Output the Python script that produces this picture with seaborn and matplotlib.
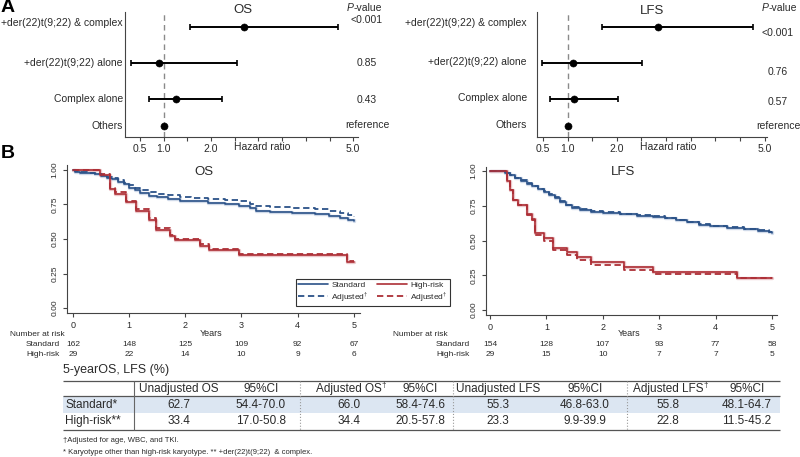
import numpy as np
import pandas as pd
import matplotlib
matplotlib.use("Agg")
import matplotlib.pyplot as plt
import matplotlib.transforms as mtransforms
from matplotlib.lines import Line2D
import seaborn as sns

# ---------------- panel A: hazard ratios ----------------
groups = ["+der(22)t(9;22) & complex", "+der(22)t(9;22) alone", "Complex alone", "Others"]
os_hr = [2.70, 0.90, 1.26, 1.00]
os_lo = [1.56, 0.31, 0.69, np.nan]
os_hi = [4.68, 2.55, 2.23, np.nan]
os_p = ["<0.001", "0.85", "0.43", "reference"]
lfs_hr = [2.83, 1.11, 1.13, 1.00]
lfs_lo = [1.69, 0.48, 0.64, np.nan]
lfs_hi = [4.77, 2.51, 2.03, np.nan]
lfs_p = ["<0.001", "0.76", "0.57", "reference"]
hr_ticks = [0.5, 1.0, 1.5, 2.0, 2.5, 3.0, 3.5, 4.0, 4.5, 5.0]
hr_ticklabels = ["0.5", "1.0", "", "2.0", "", "", "", "", "", "5.0"]

# ---------------- panel B: Kaplan-Meier curves ----------------
os_std_t = [0, 0.04, 0.12, 0.25, 0.40, 0.50, 0.60, 0.70, 0.80, 0.90, 1.00, 1.10, 1.20, 1.35, 1.50,
            1.70, 1.90, 2.10, 2.40, 2.70, 2.95, 3.15, 3.25, 3.50, 3.90, 4.30, 4.55, 4.75, 4.90, 5.00]
os_std_s = [1.0, 0.988, 0.981, 0.975, 0.969, 0.957, 0.944, 0.932, 0.914, 0.895, 0.870, 0.852, 0.833, 0.815, 0.803,
            0.790, 0.778, 0.772, 0.759, 0.753, 0.741, 0.722, 0.704, 0.698, 0.685, 0.679, 0.667, 0.654, 0.636, 0.627]
os_std_adj = [1.0, 0.990, 0.984, 0.979, 0.974, 0.964, 0.952, 0.941, 0.925, 0.909, 0.888, 0.872, 0.855, 0.839, 0.828,
              0.817, 0.806, 0.800, 0.789, 0.783, 0.772, 0.755, 0.739, 0.734, 0.722, 0.717, 0.706, 0.689, 0.672, 0.660]
os_hr_t = [0, 0.48, 0.65, 0.74, 0.94, 1.12, 1.35, 1.48, 1.72, 1.81, 2.26, 2.43, 2.96, 4.87, 5.00]
os_hr_s = [1.0, 0.966, 0.862, 0.828, 0.765, 0.700, 0.640, 0.565, 0.520, 0.494, 0.452, 0.421, 0.386, 0.334, 0.334]
os_hr_adj = [1.0, 0.970, 0.872, 0.840, 0.778, 0.716, 0.655, 0.578, 0.532, 0.500, 0.462, 0.428, 0.392, 0.344, 0.344]

lfs_std_t = [0, 0.27, 0.35, 0.45, 0.55, 0.65, 0.75, 0.85, 0.95, 1.05, 1.15, 1.25, 1.35, 1.45, 1.60,
             1.80, 2.00, 2.30, 2.60, 2.90, 3.10, 3.30, 3.50, 3.70, 3.90, 4.20, 4.50, 4.75, 4.95, 5.00]
lfs_std_s = [1.0, 0.987, 0.968, 0.948, 0.929, 0.909, 0.890, 0.870, 0.851, 0.831, 0.805, 0.779, 0.753, 0.734, 0.721,
             0.708, 0.701, 0.688, 0.679, 0.669, 0.659, 0.646, 0.630, 0.614, 0.601, 0.591, 0.581, 0.571, 0.558, 0.553]
lfs_std_adj = [1.0, 0.989, 0.971, 0.951, 0.932, 0.912, 0.893, 0.874, 0.855, 0.835, 0.810, 0.784, 0.758, 0.739, 0.726,
               0.713, 0.706, 0.693, 0.684, 0.674, 0.664, 0.651, 0.635, 0.619, 0.606, 0.596, 0.586, 0.576, 0.563, 0.558]
lfs_hr_t = [0, 0.30, 0.36, 0.41, 0.50, 0.65, 0.74, 0.80, 0.95, 1.12, 1.36, 1.54, 1.80, 2.37, 2.90, 4.38, 5.00]
lfs_hr_s = [1.0, 0.931, 0.862, 0.793, 0.759, 0.690, 0.655, 0.552, 0.517, 0.448, 0.414, 0.379, 0.345, 0.310, 0.272, 0.233, 0.233]
lfs_hr_adj = [1.0, 0.930, 0.860, 0.790, 0.755, 0.685, 0.648, 0.540, 0.500, 0.430, 0.395, 0.360, 0.325, 0.288, 0.262, 0.228, 0.228]

risk_years = [0, 1, 2, 3, 4, 5]
os_risk_std = [162, 148, 125, 109, 92, 67]
os_risk_high = [29, 22, 14, 10, 9, 6]
lfs_risk_std = [154, 128, 107, 93, 77, 58]
lfs_risk_high = [29, 15, 10, 7, 7, 5]

# ---------------- 5-year table ----------------
tab_cols = ["Unadjusted OS", "95%CI", "Adjusted OS", "95%CI",
            "Unadjusted LFS", "95%CI", "Adjusted LFS", "95%CI"]
tab_col_sup = ["", "", "\u2020", "", "", "", "\u2020", ""]
tab_rows = ["Standard*", "High-risk**"]
unadj_os = ["62.7", "33.4"]
unadj_os_ci = ["54.4-70.0", "17.0-50.8"]
adj_os = ["66.0", "34.4"]
adj_os_ci = ["58.4-74.6", "20.5-57.8"]
unadj_lfs = ["55.3", "23.3"]
unadj_lfs_ci = ["46.8-63.0", "9.9-39.9"]
adj_lfs = ["55.8", "22.8"]
adj_lfs_ci = ["48.1-64.7", "11.5-45.2"]

BLUE, BLUE_L = "#2b5288", "#a3b7d4"
RED, RED_L = "#ad2f36", "#e0a2a7"
TXT = "#2a2a2a"

sns.set_style("ticks")
plt.rcParams["font.family"] = ["Liberation Sans", "DejaVu Sans"]
plt.rcParams["mathtext.fontset"] = "custom"
plt.rcParams["mathtext.rm"] = "Liberation Sans"

W, H = 800, 457
fig = plt.figure(figsize=(8, 4.57), dpi=100)


def fx(x):
    return x / W


def fy(y):
    return 1 - y / H


def add_ax(x0, y0, x1, y1):
    return fig.add_axes([fx(x0), fy(y1), (x1 - x0) / W, (y1 - y0) / H])


def ftext(x, y, s, **kw):
    kw.setdefault("color", TXT)
    kw.setdefault("va", "center")
    return fig.text(fx(x), fy(y), s, **kw)


# ---------------- forest plots ----------------
row_y = [27, 63, 99, 126]


def forest(ax, hr, lo, hi, xlim):
    df = pd.DataFrame({"hr": hr, "lo": lo, "hi": hi, "y": row_y})
    ax.axvline(1.0, color="#8a8a8a", lw=1, ls=(0, (4, 3)), zorder=1)
    ci = df.dropna()
    ax.errorbar(ci["hr"], ci["y"], xerr=[ci["hr"] - ci["lo"], ci["hi"] - ci["hr"]],
                fmt="none", ecolor="black", elinewidth=1.4, capsize=2.2, capthick=1.2, zorder=2)
    sns.scatterplot(data=df, x="hr", y="y", color="black", s=26, ax=ax, legend=False,
                    edgecolor="black", zorder=3)
    ax.set_xlim(*xlim)
    ax.set_ylim(137, 12)
    ax.set_yticks([])
    ax.set_xticks(hr_ticks)
    ax.set_xticklabels(hr_ticklabels, fontsize=7.5, color=TXT)
    ax.tick_params(axis="x", length=3, width=0.8, color="#444", pad=2)
    ax.set_xlabel("")
    ax.set_ylabel("")
    for sp in ["top", "right"]:
        ax.spines[sp].set_visible(False)
    for sp in ["left", "bottom"]:
        ax.spines[sp].set_color("#444")
        ax.spines[sp].set_linewidth(0.8)


def pvalue_head(ax, x, y):
    t = ftext(x, y, "P", ha="left", fontsize=7.5, style="italic")
    ax.annotate("-value", xy=(1.0, 0.0), xycoords=t, ha="left", va="bottom",
                fontsize=7.5, color=TXT, annotation_clip=False)


ax_a1 = add_ax(125, 12, 358, 137)
forest(ax_a1, os_hr, os_lo, os_hi, (0.183, 5.1))
ax_a2 = add_ax(537, 12, 767, 137)
forest(ax_a2, lfs_hr, lfs_lo, lfs_hi, (0.377, 5.05))

for g, y in zip(groups, [23, 63, 99, 126]):
    ftext(123, y, g, ha="right", fontsize=7.5)
for g, y in zip(groups, [23, 62, 98, 125]):
    ftext(527, y, g, ha="right", fontsize=7.5)

ftext(243, 10, "OS", ha="center", fontsize=9.5)
ftext(652, 11, "LFS", ha="center", fontsize=9.5)
ftext(262, 147, "Hazard ratio", ha="center", fontsize=7.5)
ftext(668, 147, "Hazard ratio", ha="center", fontsize=7.5)

pvalue_head(ax_a1, 347, 8)
for p, y in zip(os_p, [20, 63, 100, 125]):
    ftext(367, y, p, ha="center", fontsize=7.5)
pvalue_head(ax_a2, 762, 8)
for p, y in zip(lfs_p, [33, 72, 102, 126]):
    ftext(778, y, p, ha="center", fontsize=7.5)

ftext(1, 7, "A", fontsize=14, fontweight="bold", color="black")
ftext(1, 153, "B", fontsize=14, fontweight="bold", color="black")


# ---------------- KM plots ----------------
def km(ax, t_std, s_std, s_std_adj, t_high, s_high, s_high_adj, xlim, ylim):
    dash = (0, (3.5, 2))
    sns.lineplot(x=t_std, y=s_std, ax=ax, color=BLUE_L, lw=2.4, alpha=0.5, drawstyle="steps-post",
                 estimator=None, sort=False, legend=False)
    sns.lineplot(x=t_high, y=s_high, ax=ax, color=RED_L, lw=2.4, alpha=0.6, drawstyle="steps-post",
                 estimator=None, sort=False, legend=False)
    sns.lineplot(x=t_std, y=s_std_adj, ax=ax, color=BLUE, lw=1.3, linestyle=dash, drawstyle="steps-post",
                 estimator=None, sort=False, legend=False)
    sns.lineplot(x=t_high, y=s_high_adj, ax=ax, color=RED, lw=1.3, linestyle=dash, drawstyle="steps-post",
                 estimator=None, sort=False, legend=False)
    sns.lineplot(x=t_std, y=s_std, ax=ax, color=BLUE, lw=1.2, drawstyle="steps-post",
                 estimator=None, sort=False, legend=False)
    sns.lineplot(x=t_high, y=s_high, ax=ax, color=RED, lw=1.2, drawstyle="steps-post",
                 estimator=None, sort=False, legend=False)
    ax.set_xlim(*xlim)
    ax.set_ylim(*ylim)
    ax.set_xticks(risk_years)
    ax.set_xticklabels([str(v) for v in risk_years], fontsize=6.5, color=TXT)
    ax.set_yticks([0, 0.25, 0.5, 0.75, 1.0])
    ax.set_yticklabels(["0.00", "0.25", "0.50", "0.75", "1.00"], fontsize=6, color=TXT,
                       rotation=90, va="center")
    ax.tick_params(length=3, width=0.8, color="#444", pad=3)
    ax.set_xlabel("")
    ax.set_ylabel("")
    for sp in ["top", "right"]:
        ax.spines[sp].set_visible(False)
    for sp in ["left", "bottom"]:
        ax.spines[sp].set_color("#444")
        ax.spines[sp].set_linewidth(0.8)


ax_b1 = add_ax(67, 165, 360, 313)
km(ax_b1, os_std_t, os_std_s, os_std_adj, os_hr_t, os_hr_s, os_hr_adj, (-0.107, 5.11), (-0.036, 1.036))
ax_b2 = add_ax(486, 167, 777, 315)
km(ax_b2, lfs_std_t, lfs_std_s, lfs_std_adj, lfs_hr_t, lfs_hr_s, lfs_hr_adj, (-0.07, 5.09), (-0.036, 1.029))

ftext(204, 172, "OS", ha="center", fontsize=9.5)
ftext(623, 172, "LFS", ha="center", fontsize=9.5)
ftext(211, 334, "Years", ha="center", fontsize=6.5)
ftext(629, 334, "Years", ha="center", fontsize=6.5)

# number at risk
for ax, std, high, xlab, xnum in [(ax_b1, os_risk_std, os_risk_high, 60, 65),
                                  (ax_b2, lfs_risk_std, lfs_risk_high, 470, 448)]:
    tr = mtransforms.blended_transform_factory(ax.transData, fig.transFigure)
    ftext(xnum, 335, "Number at risk", ha="right", fontsize=6)
    ftext(xlab, 344, "Standard", ha="right", fontsize=6)
    ftext(xlab, 355, "High-risk", ha="right", fontsize=6)
    for yr, a, b in zip(risk_years, std, high):
        ax.text(yr, fy(344), str(a), transform=tr, ha="center", va="center", fontsize=6, color=TXT)
        ax.text(yr, fy(355), str(b), transform=tr, ha="center", va="center", fontsize=6, color=TXT)

handles = [Line2D([], [], color=BLUE, lw=1.2),
           Line2D([], [], color=BLUE, lw=1.3, ls=(0, (3.5, 2))),
           Line2D([], [], color=RED, lw=1.2),
           Line2D([], [], color=RED, lw=1.3, ls=(0, (3.5, 2)))]
labels = ["Standard", "Adjusted$^{\u2020}$", "High-risk", "Adjusted$^{\u2020}$"]
leg = fig.legend(handles, labels, ncol=2, loc="center", bbox_to_anchor=(fx(373), fy(292.5)),
                 frameon=True, fancybox=False, edgecolor="black", fontsize=6, handlelength=3.6,
                 columnspacing=1.0, borderpad=0.25, labelspacing=0.05, handletextpad=0.4,
                 borderaxespad=0)
leg.get_frame().set_linewidth(0.8)
for t in leg.get_texts():
    t.set_color(TXT)

# ---------------- table ----------------
tab = add_ax(0, 360, 800, 457)
tab.set_xlim(0, W)
tab.set_ylim(457, 360)
tab.axis("off")

col_x = [179, 261, 349, 420, 498, 585, 668, 747]
tab.fill_between([63, 780], 396, 413, color="#dce6f2", lw=0)
tab.hlines([381, 396, 430], 63, 780, color="#555555", lw=0.9)
tab.vlines(134, 381, 430, color="#666666", lw=0.8)
tab.vlines([300, 453, 627], 381, 430, color="#9a9a9a", lw=0.8, linestyles=":")

tab.text(63, 370, "5-yearOS, LFS (%)", ha="left", va="center", fontsize=9, color=TXT)
for x, c, sup in zip(col_x, tab_cols, tab_col_sup):
    t = tab.text(x, 389, c, ha="center", va="center", fontsize=8.5, color=TXT)
    if sup:
        tab.annotate(sup, xy=(1.0, 1.05), xycoords=t, ha="left", va="top", fontsize=6, color=TXT)

row_vals = list(zip(unadj_os, unadj_os_ci, adj_os, adj_os_ci, unadj_lfs, unadj_lfs_ci, adj_lfs, adj_lfs_ci))
for r, (lab, vals) in enumerate(zip(tab_rows, row_vals)):
    y = [405, 421][r]
    tab.text(65, y, lab, ha="left", va="center", fontsize=8.5, color=TXT)
    for x, v in zip(col_x, vals):
        tab.text(x, y, v, ha="center", va="center", fontsize=8.5, color=TXT)

tab.text(63, 441, "\u2020Adjusted for age, WBC, and TKI.", ha="left", va="center", fontsize=5.5, color=TXT)
tab.text(63, 453, "* Karyotype other than high-risk karyotype. ** +der(22)t(9;22)  & complex.",
         ha="left", va="center", fontsize=5.5, color=TXT)

fig.savefig("out.png", dpi=100)
